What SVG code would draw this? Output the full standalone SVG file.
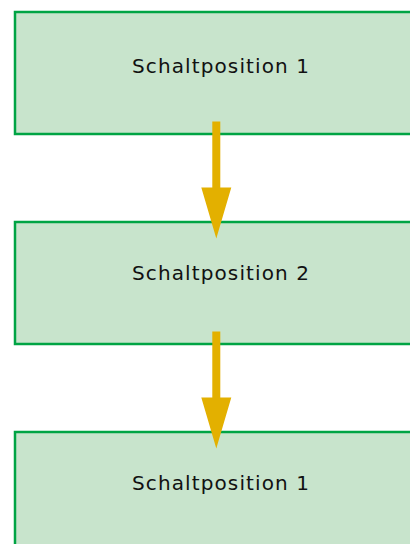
<svg xmlns="http://www.w3.org/2000/svg" width="410" height="544" viewBox="0 0 410 544">
<style>
.box{fill:#c8e4cc;stroke:#00a444;stroke-width:2.5}
.lbl{font-family:"DejaVu Sans",sans-serif;font-size:20px;fill:#111;text-anchor:middle}
.arr{fill:#e3b000}
</style>
<rect width="410" height="544" fill="#fff"/>
<g id="node1"><rect class="box" x="15" y="12" width="420" height="122"/><text class="lbl" x="220.5" y="73" textLength="177" lengthAdjust="spacing">Schaltposition 1</text></g>
<g id="node2"><rect class="box" x="15" y="222" width="420" height="122"/><text class="lbl" x="220.5" y="280" textLength="177" lengthAdjust="spacing">Schaltposition 2</text></g>
<g id="node3"><rect class="box" x="15" y="432" width="420" height="130"/><text class="lbl" x="220.5" y="490" textLength="177" lengthAdjust="spacing">Schaltposition 1</text></g>
<g id="connectors">
<path class="arr" d="M212.3 121.5h8v66h11l-15 51l-15-51h11z"/>
<path class="arr" d="M212.3 331.5h8v66h11l-15 51l-15-51h11z"/>
</g>
</svg>
